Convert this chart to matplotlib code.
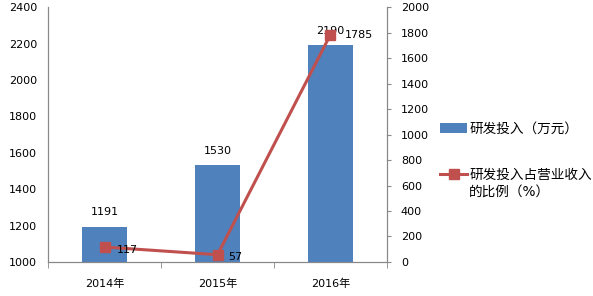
import matplotlib
matplotlib.use('Agg')
import matplotlib.pyplot as plt
import numpy as np

plt.rcParams['font.family'] = ['DejaVu Sans', 'Noto Sans CJK SC']

years = ['2014年', '2015年', '2016年']
rd_spend = [1191, 1530, 2190]
rd_ratio = [117, 57, 1785]
bar_label = '研发投入（万元）'
line_label = ['研发投入占营业收入', '的比例（%）']

fig = plt.figure(figsize=(5.93, 2.96), dpi=100)
ax = fig.add_axes([0.081, 0.115, 0.5716, 0.861])
ax2 = ax.twinx()

x = np.arange(len(years))
bars = ax.bar(x, rd_spend, width=0.4, color='#4F81BD', zorder=2)
ax.set_ylim(1000, 2400)
ax.set_xlim(-0.5, len(years) - 0.5)
ax.set_yticks(range(1000, 2401, 200))
ax.set_xticks(x)
ax.set_xticklabels(years, fontsize=8)
ax.set_xticks(np.arange(-0.5, len(years)), minor=True)
ax.tick_params(axis='x', which='major', length=0, pad=12)
ax.tick_params(axis='x', which='minor', length=4, color='#888888', direction='out')
ax.tick_params(axis='y', length=0, labelsize=8, pad=8)
for b, v in zip(bars, rd_spend):
    ax.annotate(str(v), (b.get_x() + b.get_width() / 2, v), xytext=(0, 7),
                textcoords='offset points', ha='center', va='bottom', fontsize=8)

line, = ax2.plot(x, rd_ratio, color='#C0504D', lw=2.2, marker='s', ms=6.5, zorder=3)
ax2.set_ylim(0, 2000)
ax2.set_yticks(range(0, 2001, 200))
ax2.tick_params(axis='y', length=3, color='#888888', labelsize=8, pad=7)
offsets = [(9, -2), (8, -2), (10, 0)]
for xi, v, off in zip(x, rd_ratio, offsets):
    ax2.annotate(str(v), (xi, v), xytext=off, textcoords='offset points',
                 ha='left', va='center', fontsize=8)

for a in (ax, ax2):
    a.spines['top'].set_visible(False)
    for side in ('left', 'right', 'bottom'):
        a.spines[side].set_color('#888888')

leg = fig.legend([bars, line], [bar_label, line_label[0]], loc='upper left',
                 bbox_to_anchor=(0.742, 0.588), frameon=False,
                 prop={'size': 9.8}, borderpad=0, borderaxespad=0,
                 handlelength=2.0, handletextpad=0.15, labelspacing=2.35)

fig.canvas.draw()
bb = leg.get_texts()[1].get_window_extent().transformed(fig.transFigure.inverted())
fig.text(bb.x0, bb.y0 - 0.01, line_label[1], fontsize=9.8, ha='left', va='top')

fig.savefig('out.png', dpi=100)
